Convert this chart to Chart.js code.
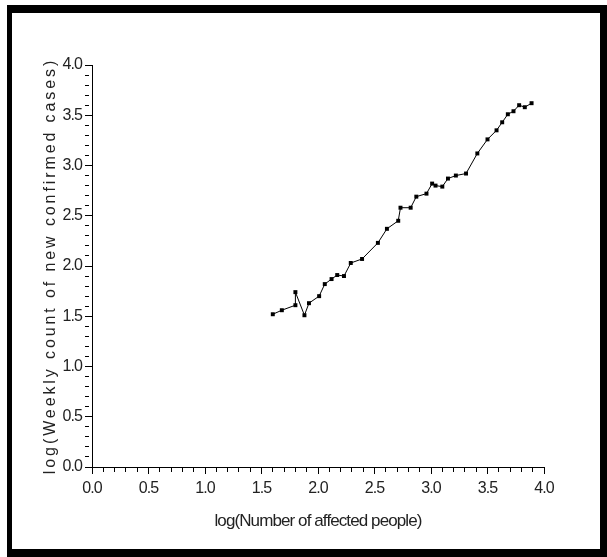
<!DOCTYPE html>
<html>
<head>
<meta charset="utf-8">
<script src="https://cdn.jsdelivr.net/npm/chart.js@4/dist/chart.umd.min.js"></script>
<style>
  html, body { margin: 0; padding: 0; background: #fff; }
  #wrap { position: relative; width: 607px; height: 557px; }
  #frame {
    position: absolute; left: 7px; top: 5px; width: 600px; height: 552px;
    box-sizing: border-box; border-style: solid; border-color: #000;
    border-width: 8px 7px 8px 5px; pointer-events: none;
  }
</style>
</head>
<body>
<div id="wrap">
  <canvas id="myChart" width="607" height="557"></canvas>
  <div id="frame"></div>
</div>
<script>
// values
const logAffected = [1.60, 1.68, 1.80, 1.80, 1.88, 1.92, 2.01, 2.06, 2.12, 2.17,
  2.23, 2.29, 2.39, 2.53, 2.61, 2.71, 2.73, 2.82, 2.87, 2.96,
  3.01, 3.04, 3.10, 3.15, 3.22, 3.31, 3.41, 3.50, 3.58, 3.63,
  3.68, 3.73, 3.78, 3.83, 3.89];
const logWeekly = [1.52, 1.56, 1.61, 1.74, 1.51, 1.63, 1.70, 1.82, 1.87, 1.91,
  1.90, 2.03, 2.07, 2.23, 2.37, 2.45, 2.58, 2.58, 2.69, 2.72,
  2.82, 2.80, 2.79, 2.87, 2.90, 2.92, 3.12, 3.26, 3.35, 3.43,
  3.51, 3.54, 3.60, 3.58, 3.62];
const xTitle = 'log(Number of affected people)';
const yTitle = 'log(Weekly count of new confirmed cases)';

const points = logAffected.map((x, i) => ({ x, y: logWeekly[i] }));

const sans = '"Liberation Sans", Arial, sans-serif';

function majorLabel(v) {
  const t = Math.round(v * 10);
  return t % 5 === 0 ? (t / 10).toFixed(1) : '';
}
function tickDash(c) {
  const t = Math.round(c.tick.value * 10);
  return t % 5 === 0 ? [] : [4, 40];
}

// squeeze the axis text (the original uses a narrow face) and
// spread the y title out like the original
const textSpacing = {
  id: 'textSpacing',
  beforeDraw(chart) {
    chart.ctx.letterSpacing = '-0.9px';
  },
  afterDraw(chart) {
    chart.ctx.letterSpacing = '0px';
  },
  afterLayout(chart) {
    const y = chart.scales.y;
    if (y._patched) return;
    const orig = Object.getPrototypeOf(y).drawTitle;
    y.drawTitle = function () {
      this.ctx.save();
      this.ctx.letterSpacing = '2.9px';
      orig.call(this);
      this.ctx.restore();
    };
    y._patched = true;
  },
};

const ctx = document.querySelector('#myChart');
new Chart(ctx, {
  type: 'scatter',
  data: {
    datasets: [{
      data: points,
      showLine: true,
      borderColor: '#000',
      borderWidth: 1,
      backgroundColor: '#000',
      pointStyle: 'rect',
      pointRadius: 2.8,
      pointBorderWidth: 0,
    }],
  },
  options: {
    responsive: false,
    animation: false,
    layout: { padding: { left: 30, top: 65, right: 63, bottom: 22 } },
    plugins: { legend: { display: false }, tooltip: { enabled: false } },
    scales: {
      x: {
        type: 'linear',
        min: 0,
        max: 4,
        afterFit(s) { s.height = 68; },
        border: { color: '#000', width: 1 },
        grid: {
          drawOnChartArea: false,
          color: '#000',
          tickLength: 7,
          tickBorderDash: tickDash,
        },
        ticks: {
          stepSize: 0.1,
          autoSkip: false,
          maxRotation: 0,
          padding: 5,
          color: '#222',
          font: { family: sans, size: 16 },
          callback: majorLabel,
        },
        title: {
          display: true,
          text: xTitle,
          color: '#222',
          font: { family: sans, size: 17 },
          padding: { top: 0, bottom: 3 },
        },
      },
      y: {
        type: 'linear',
        min: 0,
        max: 4,
        afterFit(s) { s.width = 62; },
        border: { color: '#000', width: 1 },
        grid: {
          drawOnChartArea: false,
          color: '#000',
          tickLength: 7,
          tickBorderDash: tickDash,
        },
        ticks: {
          stepSize: 0.1,
          autoSkip: false,
          padding: 3,
          color: '#222',
          font: { family: sans, size: 16 },
          callback: majorLabel,
        },
        title: {
          display: true,
          text: yTitle,
          color: '#222',
          font: { family: sans, size: 16 },
          padding: { top: 11, bottom: 0 },
        },
      },
    },
  },
  plugins: [textSpacing],
});
</script>
</body>
</html>
